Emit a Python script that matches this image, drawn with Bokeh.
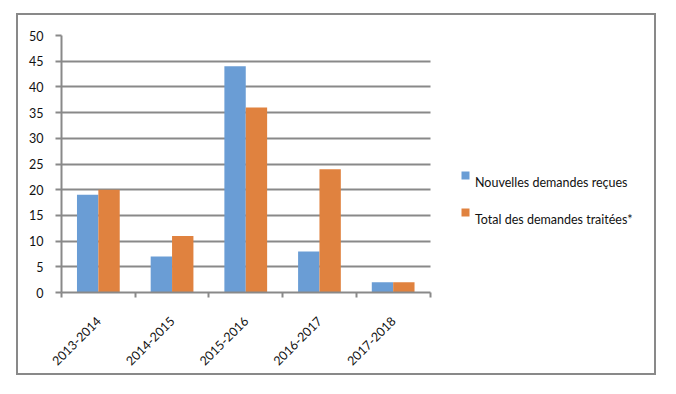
from bokeh.plotting import figure
from bokeh.models import (Range1d, FixedTicker, ColumnDataSource, Legend, LegendItem)
from bokeh.embed import file_html
from bokeh.resources import INLINE
import math

categories = ["2013-2014", "2014-2015", "2015-2016", "2016-2017", "2017-2018"]
nouvelles = [19, 7, 44, 8, 2]
traitees = [20, 11, 36, 24, 2]
series_names = ["Nouvelles demandes reçues", "Total des demandes traitées*"]
y_ticks = list(range(0, 55, 5))

BLUE = "#6A9DD5"
ORANGE = "#E0823F"
GRAY = "#898989"
FONT = "Lato"

n = len(categories)
centers = [i + 0.5 for i in range(n)]
bw = 0.29
src = ColumnDataSource(dict(
    xb=[c - bw / 2 for c in centers],
    xo=[c + bw / 2 for c in centers],
    nb=nouvelles, to=traitees,
))

W, H = 640, 362
ML, MT, MR, MB = 43, 20, 10, 85
frame_w = W - 4 - ML - MR
bars_w = 366
x_end = n * frame_w / bars_w

p = figure(width=W, height=H, output_backend="svg", toolbar_location=None,
           x_range=Range1d(0, x_end), y_range=Range1d(0, 50),
           min_border_left=ML, min_border_right=MR, min_border_top=MT,
           min_border_bottom=MB)
p.margin = (13, 0, 0, 16)
p.styles = {"border": "2px solid #898989"}
p.outline_line_color = None
p.background_fill_color = "white"
p.border_fill_color = "white"

r1 = p.vbar(x="xb", top="nb", width=bw, bottom=0, source=src, fill_color=BLUE, line_color=None)
r2 = p.vbar(x="xo", top="to", width=bw, bottom=0, source=src, fill_color=ORANGE, line_color=None)
# invisible renderers that only carry the legend texts
empty = ColumnDataSource(dict(x=[], top=[]))
t1 = p.vbar(x="x", top="top", width=bw, source=empty, fill_alpha=0, line_alpha=0)
t2 = p.vbar(x="x", top="top", width=bw, source=empty, fill_alpha=0, line_alpha=0)

# y axis
ya = p.yaxis[0]
ya.ticker = FixedTicker(ticks=y_ticks)
ya.axis_line_color = GRAY
ya.axis_line_width = 2
ya.major_tick_line_color = GRAY
ya.major_tick_line_width = 2
ya.major_tick_out = 6
ya.major_tick_in = 0
ya.minor_tick_line_color = None
ya.major_label_text_font = FONT
ya.major_label_text_font_size = "12.5px"
ya.major_label_text_color = "#111111"
ya.major_label_standoff = 12

# x axis
xa = p.xaxis[0]
xa.bounds = (0, n)
xa.ticker = FixedTicker(ticks=centers, minor_ticks=list(range(n + 1)))
xa.major_label_overrides = {c: lab for c, lab in zip(centers, categories)}
xa.axis_line_color = GRAY
xa.axis_line_width = 2
xa.major_tick_line_color = None
xa.major_tick_out = 0
xa.major_tick_in = 0
xa.minor_tick_line_color = GRAY
xa.minor_tick_line_width = 2
xa.minor_tick_out = 5
xa.minor_tick_in = 0
xa.major_label_orientation = math.pi / 4
xa.major_label_text_font = FONT
xa.major_label_text_font_size = "12.5px"
xa.major_label_text_color = "#111111"
xa.major_label_standoff = 21

p.xgrid.visible = False
p.ygrid[0].ticker = FixedTicker(ticks=y_ticks)
p.ygrid[0].cross_bounds = (0, n)
p.ygrid.grid_line_color = GRAY
p.ygrid.grid_line_width = 2

# colour squares (labels hidden)
legend_sq = Legend(items=[LegendItem(label=series_names[0], renderers=[r1]),
                          LegendItem(label=series_names[1], renderers=[r2])],
                   location=(399, 75), orientation="vertical",
                   glyph_width=10, glyph_height=10, label_height=10,
                   spacing=27, label_standoff=0, padding=0, margin=0,
                   border_line_color=None, background_fill_alpha=0,
                   label_text_font_size="1px", label_text_alpha=0)
# texts, set slightly lower than the squares as in the reference
legend_tx = Legend(items=[LegendItem(label=series_names[0], renderers=[t1]),
                          LegendItem(label=series_names[1], renderers=[t2])],
                   location=(413, 63), orientation="vertical",
                   glyph_width=1, glyph_height=1, label_height=20,
                   spacing=17, label_standoff=0, padding=0, margin=0,
                   border_line_color=None, background_fill_alpha=0,
                   label_text_font=FONT, label_text_font_size="12.5px",
                   label_text_color="#111111", label_text_baseline="middle")
p.add_layout(legend_sq, "center")
p.add_layout(legend_tx, "center")

open("out.html", "w").write(file_html(p, INLINE))
